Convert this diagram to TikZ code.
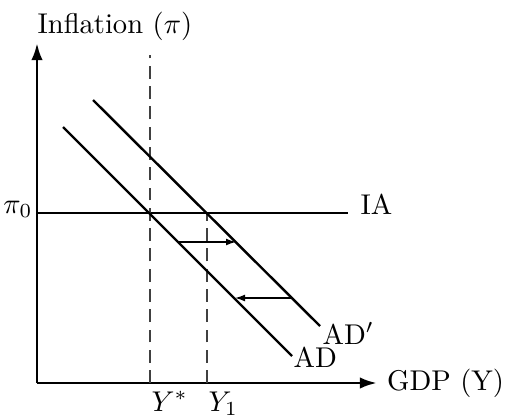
\documentclass[tikz,border=0pt]{standalone}
\usepackage{amsmath}
\usepackage{amssymb}
\usepackage{tikz}
\usetikzlibrary{arrows.meta,positioning}

\begin{document}
\begin{tikzpicture}[x=0.35pt,y=0.35pt,
  axis/.style={line width=1pt,-{Latex[length=6pt,width=4pt]}},
  curve/.style={line width=0.85pt},
  guide/.style={black!75,line width=0.5pt,dash pattern=on 4.5pt off 2.6pt},
  shiftarrow/.style={line width=0.45pt,-{Latex[length=3.5pt,width=2.4pt]}},
  lbl/.style={inner sep=0pt}]
  \useasboundingbox (-37,-33) rectangle (469,383);
  % axes
  \coordinate (O)    at (0,0);
  \coordinate (ytop) at (0,340);
  \coordinate (xend) at (340,0);
  \draw[axis] (O) -- (ytop);
  \draw[axis] (O) -- (xend);
  \node[lbl,anchor=base west] (ylab) at (0,350) {Inflation ($\pi$)};
  \node[anchor=west] (xlab) at (xend) {GDP (Y)};
  % inflation adjustment line
  \coordinate (iaA) at (0,170);
  \coordinate (iaB) at (311,170);
  \draw[curve] (iaA) -- (iaB);
  \node[lbl,anchor=base west] (ialab) at (323,169) {IA};
  \node[lbl,anchor=base east] (pilab) at (-4,170) {$\pi_0$};
  % potential and new output
  \coordinate (ystar)  at (113,0);
  \coordinate (ystarT) at (113,328);
  \coordinate (yone)   at (170,0);
  \coordinate (yoneT)  at (170,170);
  \draw[guide] (ystar) -- (ystarT);
  \draw[guide] (yone) -- (yoneT);
  \node[lbl,anchor=base west] (ystarlab) at (114,-28) {$Y^*$};
  \node[lbl,anchor=base west] (yonelab)  at (171,-28) {$Y_1$};
  % aggregate demand curves
  \coordinate (adA)  at (26,256);
  \coordinate (adB)  at (255,27);
  \coordinate (ad2A) at (56,283);
  \coordinate (ad2B) at (283,57);
  \draw[curve] (adA) -- (adB);
  \draw[curve] (ad2A) -- (ad2B);
  \node[lbl,anchor=base west] (adlab)  at (256,16) {AD};
  \node[lbl,anchor=base west] (ad2lab) at (285,39) {AD$'$};
  % shifts
  \coordinate (upL) at (142,141);
  \coordinate (upR) at (199,141);
  \coordinate (loR) at (255,85);
  \coordinate (loL) at (198,85);
  \draw[shiftarrow] (upL) -- (upR);
  \draw[shiftarrow] (loR) -- (loL);
\end{tikzpicture}
\end{document}
